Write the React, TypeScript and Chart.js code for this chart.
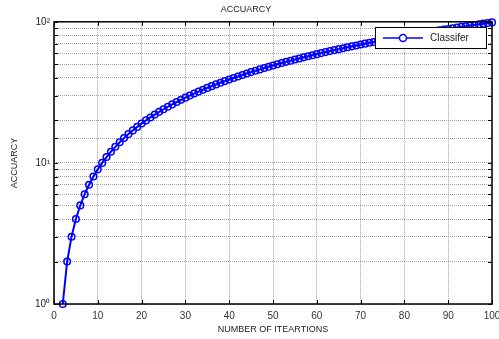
import React, { useEffect, useRef } from "react";
import { Chart, registerables } from "chart.js";

Chart.register(...registerables);

const iterations = [
  2, 3, 4, 5, 6, 7, 8, 9, 10, 11, 12, 13, 14, 15, 16, 17, 18, 19, 20, 21,
  22, 23, 24, 25, 26, 27, 28, 29, 30, 31, 32, 33, 34, 35, 36, 37, 38, 39, 40,
  41, 42, 43, 44, 45, 46, 47, 48, 49, 50, 51, 52, 53, 54, 55, 56, 57, 58, 59,
  60, 61, 62, 63, 64, 65, 66, 67, 68, 69, 70, 71, 72, 73, 74, 75, 76, 77, 78,
  79, 80, 81, 82, 83, 84, 85, 86, 87, 88, 89, 90, 91, 92, 93, 94, 95, 96, 97,
  98, 99, 100,
];
const accuracy = [
  1, 2, 3, 4, 5, 6, 7, 8, 9, 10, 11, 12, 13, 14, 15, 16, 17, 18, 19, 20, 21,
  22, 23, 24, 25, 26, 27, 28, 29, 30, 31, 32, 33, 34, 35, 36, 37, 38, 39, 40,
  41, 42, 43, 44, 45, 46, 47, 48, 49, 50, 51, 52, 53, 54, 55, 56, 57, 58, 59,
  60, 61, 62, 63, 64, 65, 66, 67, 68, 69, 70, 71, 72, 73, 74, 75, 76, 77, 78,
  79, 80, 81, 82, 83, 84, 85, 86, 87, 88, 89, 90, 91, 92, 93, 94, 95, 96, 97,
  98, 99,
];
const xTicks = [0, 10, 20, 30, 40, 50, 60, 70, 80, 90, 100];
const yMajorLabels: Record<number, string> = { 1: "10\u2070", 10: "10\u00B9", 100: "10\u00B2" };
const seriesName = "Classifer";
const titleText = "ACCUARCY";
const xTitle = "NUMBER OF ITEARTIONS";
const yTitle = "ACCUARCY";

const FONT = "'Liberation Sans', Arial, sans-serif";

export default function App() {
  const ref = useRef<HTMLCanvasElement>(null);
  useEffect(() => {
    const canvas = ref.current!;
    const framePlugin = {
      id: "frame",
      afterDatasetsDraw(chart: any) {
        const { ctx, chartArea: a } = chart;
        ctx.save();
        ctx.strokeStyle = "#000";
        ctx.lineWidth = 1.5;
        ctx.strokeRect(a.left, a.top, a.right - a.left, a.bottom - a.top);
        ctx.lineWidth = 1;
        const xs = chart.scales.x;
        xTicks.forEach((v) => {
          const px = Math.round(xs.getPixelForValue(v)) + 0.5;
          ctx.beginPath();
          ctx.moveTo(px, a.bottom);
          ctx.lineTo(px, a.bottom - 4);
          ctx.moveTo(px, a.top);
          ctx.lineTo(px, a.top + 4);
          ctx.stroke();
        });
        const ys = chart.scales.y;
        ys.ticks.forEach((t: any) => {
          const py = Math.round(ys.getPixelForValue(t.value)) + 0.5;
          ctx.beginPath();
          ctx.moveTo(a.left, py);
          ctx.lineTo(a.left + 4, py);
          ctx.moveTo(a.right, py);
          ctx.lineTo(a.right - 4, py);
          ctx.stroke();
        });
        // legend
        const lx = 375, ly = 27, lw = 111, lh = 21;
        ctx.fillStyle = "#fff";
        ctx.fillRect(lx, ly, lw, lh);
        ctx.strokeStyle = "#000";
        ctx.lineWidth = 1;
        ctx.strokeRect(lx + 0.5, ly + 0.5, lw, lh);
        const cy = ly + lh / 2 + 0.5;
        ctx.strokeStyle = "#0000ff";
        ctx.lineWidth = 1.5;
        ctx.beginPath();
        ctx.moveTo(lx + 8, cy);
        ctx.lineTo(lx + 48, cy);
        ctx.stroke();
        ctx.beginPath();
        ctx.arc(lx + 28, cy, 3.5, 0, Math.PI * 2);
        ctx.fillStyle = "#fff";
        ctx.fill();
        ctx.stroke();
        ctx.fillStyle = "#222";
        ctx.font = `10px ${FONT}`;
        ctx.textBaseline = "middle";
        ctx.textAlign = "left";
        ctx.fillText(seriesName, lx + 55, cy);
        ctx.restore();
      },
    };
    const chart = new Chart(canvas, {
      type: "line",
      data: {
        datasets: [
          {
            label: seriesName,
            data: iterations.map((x, i) => ({ x, y: accuracy[i] })),
            borderColor: "#0000ff",
            borderWidth: 2,
            pointStyle: "circle",
            pointRadius: 3.3,
            pointBorderWidth: 1.5,
            pointBorderColor: "#0000ff",
            pointBackgroundColor: "rgba(255,255,255,0)",
            tension: 0,
            clip: false as any,
          },
        ],
      },
      options: {
        animation: false,
        responsive: false,
        maintainAspectRatio: false,
        layout: { padding: { top: 0, right: 7, left: 0, bottom: 0 } },
        plugins: {
          legend: { display: false },
          tooltip: { enabled: false },
          title: {
            display: true,
            text: titleText,
            color: "#222",
            font: { family: FONT, size: 9, weight: "normal" },
            padding: { top: 4, bottom: 7 },
          },
        },
        scales: {
          x: {
            type: "linear",
            min: 0,
            max: 100,
            afterBuildTicks: (s: any) => {
              s.ticks = xTicks.map((v) => ({ value: v }));
            },
            afterFit: (s: any) => {
              s.height = 35;
              s.paddingRight = 0;
              s.paddingLeft = 0;
            },
            ticks: {
              color: "#333",
              font: { family: FONT, size: 10 },
              padding: 6,
              maxRotation: 0,
              autoSkip: false,
            },
            grid: { color: "#888", lineWidth: 0.8, drawTicks: false },
            border: { display: false, dash: [1, 1] },
            title: {
              display: true,
              text: xTitle,
              color: "#222",
              font: { family: FONT, size: 9 },
              padding: { top: 2, bottom: 4 },
            },
          },
          y: {
            type: "logarithmic",
            min: 1,
            max: 100,
            afterFit: (s: any) => {
              s.width = 54;
            },
            ticks: {
              autoSkip: false,
              color: "#222",
              font: { family: FONT, size: 10 },
              padding: 4,
              callback: (v: any) => yMajorLabels[Number(v)] ?? "",
            },
            grid: { color: "#888", lineWidth: 0.8, drawTicks: false },
            border: { display: false, dash: [1, 1] },
            title: {
              display: true,
              text: yTitle,
              color: "#222",
              font: { family: FONT, size: 9 },
              padding: { top: 9, bottom: 2 },
            },
          },
        },
      },
      plugins: [framePlugin],
    });
    return () => chart.destroy();
  }, []);
  return (
    <div style={{ position: "fixed", left: 0, top: 0, width: 499, height: 339, background: "#fff" }}>
      <canvas ref={ref} width={499} height={339} style={{ width: 499, height: 339 }} />
    </div>
  );
}
